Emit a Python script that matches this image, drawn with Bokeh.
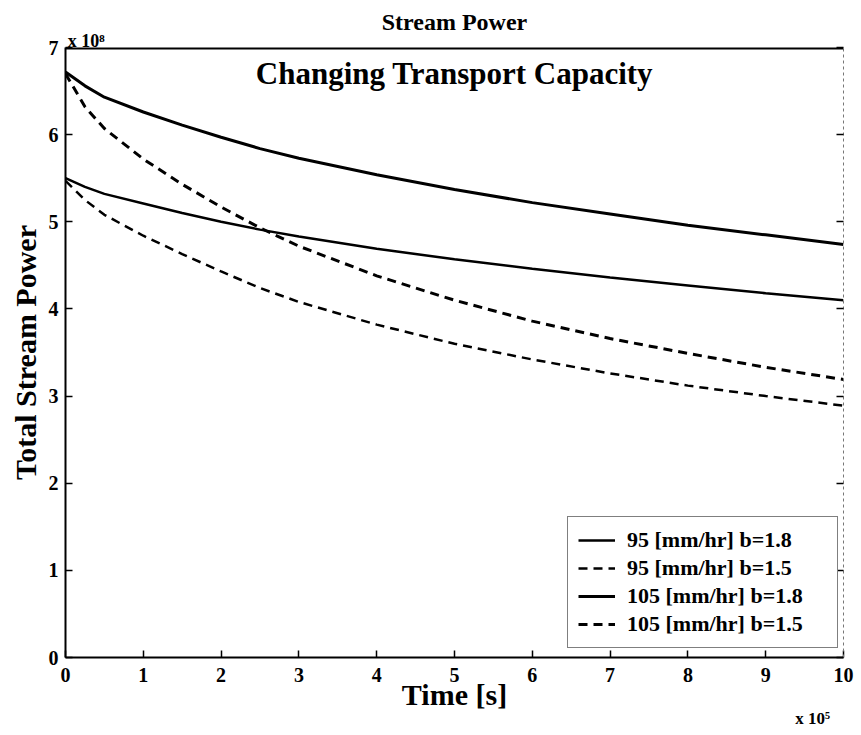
from bokeh.plotting import figure
from bokeh.models import Range1d, FixedTicker, LinearAxis, Label, Legend, Span
from bokeh.embed import file_html
from bokeh.resources import INLINE

# Time in units of 1e5 s, stream power in units of 1e8
time_1e5 = [0, 0.25, 0.5, 1, 1.5, 2, 2.5, 3, 4, 5, 6, 7, 8, 9, 10]
p105_b18 = [6.72, 6.56, 6.43, 6.26, 6.11, 5.97, 5.84, 5.73, 5.54, 5.37, 5.22, 5.09, 4.96, 4.85, 4.74]
p105_b15 = [6.70, 6.32, 6.07, 5.72, 5.43, 5.17, 4.93, 4.72, 4.38, 4.10, 3.86, 3.66, 3.49, 3.33, 3.19]
p95_b18 = [5.50, 5.40, 5.32, 5.21, 5.10, 5.00, 4.91, 4.83, 4.69, 4.57, 4.46, 4.36, 4.27, 4.18, 4.10]
p95_b15 = [5.47, 5.25, 5.08, 4.84, 4.63, 4.43, 4.24, 4.08, 3.82, 3.60, 3.42, 3.26, 3.12, 3.00, 2.89]

x_ticks = list(range(0, 11))
y_ticks = list(range(0, 8))

FONT = "Liberation Serif"

p = figure(width=861, height=735, output_backend="svg", toolbar_location=None,
           x_range=Range1d(x_ticks[0], x_ticks[-1]), y_range=Range1d(y_ticks[0], y_ticks[-1]),
           title=None,
           min_border_left=65, min_border_right=18, min_border_top=47, min_border_bottom=78,
           x_axis_label="Time [s]", y_axis_label="Total Stream Power")
p.background_fill_color = "white"
p.border_fill_color = "white"
p.outline_line_color = None
p.grid.visible = False

for ax in (p.xaxis[0], p.yaxis[0]):
    ax.axis_line_color = "black"
    ax.axis_line_width = 2
    ax.major_tick_in = 7
    ax.major_tick_out = 0
    ax.major_tick_line_width = 1.5
    ax.minor_tick_line_color = None
    ax.major_label_text_font = FONT
    ax.major_label_text_font_style = "bold"
    ax.major_label_text_font_size = "20px"
    ax.major_label_text_color = "black"
    ax.axis_label_text_font = FONT
    ax.axis_label_text_font_style = "bold"
    ax.axis_label_text_font_size = "30px"
    ax.axis_label_text_color = "black"

p.xaxis[0].ticker = FixedTicker(ticks=x_ticks)
p.yaxis[0].ticker = FixedTicker(ticks=y_ticks)
p.xaxis[0].major_label_standoff = 10
p.yaxis[0].major_label_standoff = 7
p.xaxis[0].axis_label_standoff = -7
p.yaxis[0].axis_label_standoff = 4

# Right edge of the box: faint broken line
right_ax = LinearAxis(ticker=FixedTicker(ticks=y_ticks), major_label_text_font_size="1px",
                      major_label_text_color=None,
                      major_tick_in=7, major_tick_out=0, minor_tick_line_color=None,
                      axis_line_width=1, axis_line_color="#777777", axis_line_dash="3 3",
                      major_tick_line_width=1.5, major_label_standoff=0)
p.add_layout(right_ax, "right")

# Top edge of the box
p.add_layout(Span(location=y_ticks[-1], dimension="width", line_color="black", line_width=4))

r1 = p.line(time_1e5, p95_b18, line_color="black", line_width=2.5)
r2 = p.line(time_1e5, p95_b15, line_color="black", line_width=2.5, line_dash="9 6")
r3 = p.line(time_1e5, p105_b18, line_color="black", line_width=3)
r4 = p.line(time_1e5, p105_b15, line_color="black", line_width=3, line_dash="9 6")

legend = Legend(items=[("95 [mm/hr] b=1.8", [r1]), ("95 [mm/hr] b=1.5", [r2]),
                       ("105 [mm/hr] b=1.8", [r3]), ("105 [mm/hr] b=1.5", [r4])],
                location=(502, 9))
legend.label_text_font = FONT
legend.label_text_font_style = "bold"
legend.label_text_font_size = "22px"
legend.label_text_color = "black"
legend.glyph_width = 37
legend.label_standoff = 12
legend.label_width = 200
legend.padding = 10
legend.spacing = 2
legend.margin = 0
legend.border_line_color = "black"
legend.border_line_width = 1.5
legend.background_fill_color = "white"
legend.background_fill_alpha = 1
p.add_layout(legend, "center")

def side_text(x, y, text, size, align, place):
    p.add_layout(Label(x=x, y=y, text=text, text_font=FONT, text_font_style="bold",
                       text_font_size=size, text_color="black", text_align=align,
                       text_baseline="alphabetic"), place)

# y multiplier and main title above the box
side_text(0.03, 7.07, "x 10⁸", "18px", "left", "above")
side_text(5, 7.29, "Stream Power", "24px", "center", "above")
# x multiplier below the axis
side_text(9.38, -0.70, "x 10⁵", "17px", "left", "below")

# Sub title inside the box
p.add_layout(Label(x=5, y=6.70, text="Changing Transport Capacity", text_font=FONT,
                   text_font_style="bold", text_font_size="31px", text_color="black",
                   text_align="center", text_baseline="alphabetic"))

open("out.html", "w").write(file_html(p, INLINE))
